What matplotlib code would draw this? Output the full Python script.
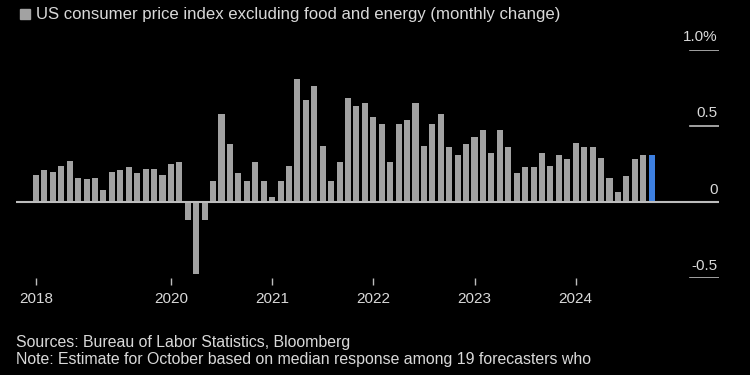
import pandas as pd
import matplotlib.pyplot as plt
from matplotlib.patches import Rectangle

# Monthly change of core CPI, Sep 2018 - Oct 2024 (last value is the estimate)
months = pd.period_range('2018-09', '2024-10', freq='M')
values = [0.18, 0.21, 0.20, 0.24, 0.27, 0.16, 0.15, 0.16, 0.08, 0.20, 0.21, 0.23,
          0.19, 0.22, 0.22, 0.18, 0.25, 0.26, -0.115, -0.47, -0.12, 0.14, 0.58, 0.38,
          0.19, 0.14, 0.26, 0.14, 0.035, 0.14, 0.24, 0.81, 0.67, 0.76, 0.37, 0.14,
          0.26, 0.68, 0.63, 0.65, 0.56, 0.51, 0.26, 0.51, 0.54, 0.65, 0.37, 0.51,
          0.58, 0.36, 0.31, 0.38, 0.43, 0.47, 0.32, 0.47, 0.36, 0.19, 0.23, 0.23,
          0.32, 0.24, 0.31, 0.28, 0.39, 0.36, 0.36, 0.29, 0.16, 0.065, 0.17, 0.28,
          0.31, 0.31]
y_ticks = [1.0, 0.5, 0, -0.5]
y_labels = ['1.0%', '0.5', '0', '-0.5']
tick_years = [2018, 2020, 2021, 2022, 2023, 2024]

bg = 'black'
gray = '#a2a2a2'
blue = '#3d7fe0'
txt = '#d9d9d9'

plt.rcParams['font.family'] = ['Liberation Sans', 'DejaVu Sans']

fig = plt.figure(figsize=(7.5, 3.75), dpi=100, facecolor=bg)
ax = fig.add_axes([0.0213, 0.2579, 0.9373, 0.6096], facecolor=bg)

x = list(range(len(values)))
colors = [gray] * (len(values) - 1) + [blue]
ax.bar(x, values, width=0.72, color=colors, zorder=2)

ax.set_xlim(-2.37, 80.98)
ax.set_ylim(-0.5, 1.0)

# baseline and right-side tick segments
ax.axhline(0, color='#bdbdbd', lw=1.5, zorder=3)
for v, lab in zip(y_ticks, y_labels):
    if v != 0:
        ax.axhline(v, xmin=0.9587, xmax=1.0, color='#bdbdbd', lw=1.2)
    ax.annotate(lab, (1.0, v), xycoords=('axes fraction', 'data'),
                xytext=(-1, 4), textcoords='offset points',
                ha='right', va='bottom', color=txt, fontsize=11)

# year ticks: first data point, then January of each labelled year
tick_pos = []
for yr in tick_years:
    idx = [i for i, m in enumerate(months) if m.year == yr]
    tick_pos.append(idx[0])
ax.set_xticks(tick_pos)
ax.set_xticklabels([str(y) for y in tick_years], color=txt, fontsize=11)
ax.tick_params(axis='x', length=5, width=1, color='#bdbdbd', pad=5)
ax.set_yticks([])
for s in ax.spines.values():
    s.set_visible(False)

# title with legend square
fig.patches.append(Rectangle((20 / 750, 1 - 19 / 375), 10 / 750, 10 / 375,
                             transform=fig.transFigure, color=gray))
fig.text(0.048, 0.962, 'US consumer price index excluding food and energy (monthly change)',
         color=txt, fontsize=12.1, va='center', ha='left')

fig.text(0.0213, 0.088, 'Sources: Bureau of Labor Statistics, Bloomberg',
         color=txt, fontsize=11.4, va='center', ha='left')
fig.text(0.0213, 0.042, 'Note: Estimate for October based on median response among 19 forecasters who',
         color=txt, fontsize=11.4, va='center', ha='left')

plt.savefig('out.png', dpi=100, facecolor=bg)
